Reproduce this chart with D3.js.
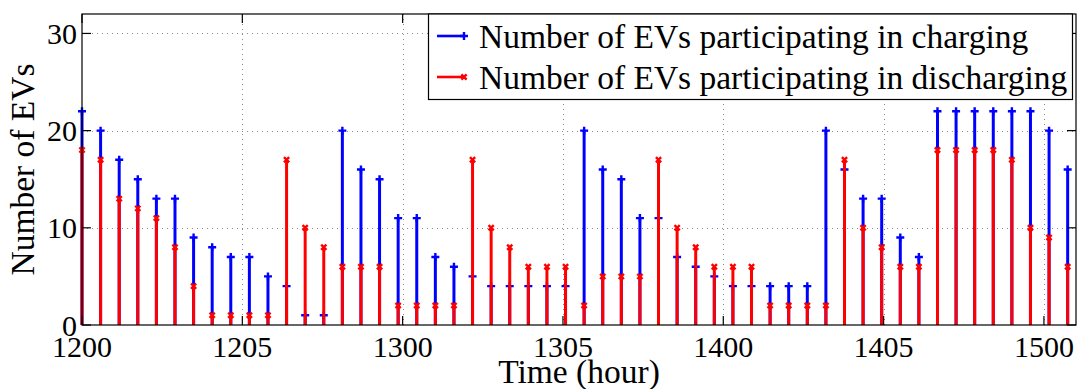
<!DOCTYPE html>
<html>
<head>
<meta charset="utf-8">
<script src="https://cdn.jsdelivr.net/npm/d3@7"></script>
<style>
  html, body { margin: 0; padding: 0; background: #fff; }
  svg { display: block; }
  text { font-family: "Liberation Serif", "Times New Roman", serif; fill: #000; }
</style>
</head>
<body>
<svg id="chart" width="1077" height="389"></svg>
<script>
// Number of EVs taking part in charging / discharging in each time slot
const charging = [22, 20, 17, 15, 13, 13, 9, 8, 7, 7, 5, 4, 1, 1, 20, 16, 15, 11, 11, 7,
                  6, 5, 4, 4, 4, 4, 4, 20, 16, 15, 11, 11, 7, 6, 5, 4, 4, 4, 4, 4,
                  20, 16, 13, 13, 9, 7, 22, 22, 22, 22, 22, 22, 20, 16];
const discharging = [18, 17, 13, 12, 11, 8, 4, 1, 1, 1, 1, 17, 10, 8, 6, 6, 6, 2, 2, 2,
                     2, 17, 10, 8, 6, 6, 6, 2, 5, 5, 5, 17, 10, 8, 6, 6, 6, 2, 2, 2,
                     2, 17, 10, 8, 6, 6, 18, 18, 18, 18, 17, 10, 9, 6];
// Time axis (hours from the start of the window) and its labels
const slotHours = 0.58;
const tickHours = [0, 5, 10, 15, 20, 25, 30];
const tickLabels = ["1200", "1205", "1300", "1305", "1400", "1405", "1500"];
const yTicks = [0, 10, 20, 30];
const seriesNames = ["Number of EVs participating in charging",
                     "Number of EVs participating in discharging"];

const svg = d3.select("#chart");
const m = { left: 82, right: 1076, top: 14, bottom: 325 };

const x = d3.scaleLinear().domain([0, 31]).range([m.left, m.right]);
const y = d3.scaleLinear().domain([0, 32]).range([m.bottom, m.top]);

const blue = "#0000ff", red = "#ff0000";

// dotted grid
const grid = svg.append("g").attr("stroke", "#8c8c8c").attr("stroke-width", 1)
  .attr("stroke-dasharray", "1,4");
grid.selectAll(".gx").data(tickHours.slice(1)).join("line")
  .attr("x1", d => Math.round(x(d)) + 0.5).attr("x2", d => Math.round(x(d)) + 0.5)
  .attr("y1", m.top).attr("y2", m.bottom);
grid.selectAll(".gy").data(yTicks.slice(1)).join("line")
  .attr("x1", m.left).attr("x2", m.right)
  .attr("y1", d => Math.round(y(d)) + 0.5).attr("y2", d => Math.round(y(d)) + 0.5);

const plusPath = s => `M${-s},0H${s}M0,${-s}V${s}`;
const crossPath = s => `M${-s},${-s}L${s},${s}M${-s},${s}L${s},${-s}`;
const plusMarker = plusPath(4);
const crossMarker = crossPath(2.6);

function drawStems(values, color, markerPath) {
  const g = svg.append("g");
  g.selectAll("line").data(values).join("line")
    .attr("x1", (d, i) => x(i * slotHours)).attr("x2", (d, i) => x(i * slotHours))
    .attr("y1", y(0)).attr("y2", d => y(d))
    .attr("stroke", color).attr("stroke-width", 3);
  g.selectAll("path").data(values).join("path")
    .attr("transform", (d, i) => `translate(${x(i * slotHours)},${y(d)})`)
    .attr("d", markerPath)
    .attr("fill", "none").attr("stroke", color).attr("stroke-width", 2.4);
}
drawStems(charging, blue, plusMarker);
drawStems(discharging, red, crossMarker);

// axes frame and ticks
const axisG = svg.append("g").attr("stroke", "#000").attr("stroke-width", 1.2);
axisG.append("rect").attr("x", m.left).attr("y", m.top)
  .attr("width", m.right - m.left).attr("height", m.bottom - m.top).attr("fill", "none");
const tl = 9;
tickHours.forEach(h => {
  const px = x(h);
  axisG.append("line").attr("x1", px).attr("x2", px).attr("y1", m.bottom).attr("y2", m.bottom - tl);
  axisG.append("line").attr("x1", px).attr("x2", px).attr("y1", m.top).attr("y2", m.top + tl);
});
yTicks.forEach(v => {
  const py = y(v);
  axisG.append("line").attr("x1", m.left).attr("x2", m.left + tl).attr("y1", py).attr("y2", py);
  axisG.append("line").attr("x1", m.right).attr("x2", m.right - tl).attr("y1", py).attr("y2", py);
});

// tick labels
svg.append("g").selectAll("text").data(tickHours).join("text")
  .attr("x", d => x(d)).attr("y", 357).attr("text-anchor", "middle")
  .attr("font-size", 30).text((d, i) => tickLabels[i]);
svg.append("g").selectAll("text").data(yTicks).join("text")
  .attr("x", 77).attr("y", d => y(d) + 10.5).attr("text-anchor", "end")
  .attr("font-size", 30).text(d => d);

// axis titles
svg.append("text").attr("x", (m.left + m.right) / 2).attr("y", 383)
  .attr("text-anchor", "middle").attr("font-size", 33.5).text("Time (hour)");
svg.append("text").attr("transform", `translate(34,${(m.top + m.bottom) / 2}) rotate(-90)`)
  .attr("text-anchor", "middle").attr("font-size", 33.5).text("Number of EVs");

// legend
const lg = svg.append("g");
lg.append("rect").attr("x", 428.5).attr("y", m.top).attr("width", 644).attr("height", 85.5)
  .attr("fill", "#fff").attr("stroke", "#000").attr("stroke-width", 1.2);
const legendRows = [
  { name: seriesNames[0], color: blue, marker: plusMarker, y: 36 },
  { name: seriesNames[1], color: red, marker: crossMarker, y: 77 }
];
legendRows.forEach(r => {
  lg.append("line").attr("x1", 437).attr("x2", 465).attr("y1", r.y).attr("y2", r.y)
    .attr("stroke", r.color).attr("stroke-width", 2.6);
  lg.append("path").attr("transform", `translate(464,${r.y})`).attr("d", r.marker)
    .attr("fill", "none").attr("stroke", r.color).attr("stroke-width", 2.4);
  lg.append("text").attr("x", 479).attr("y", r.y + 12).attr("font-size", 33.5).text(r.name);
});
</script>
</body>
</html>
